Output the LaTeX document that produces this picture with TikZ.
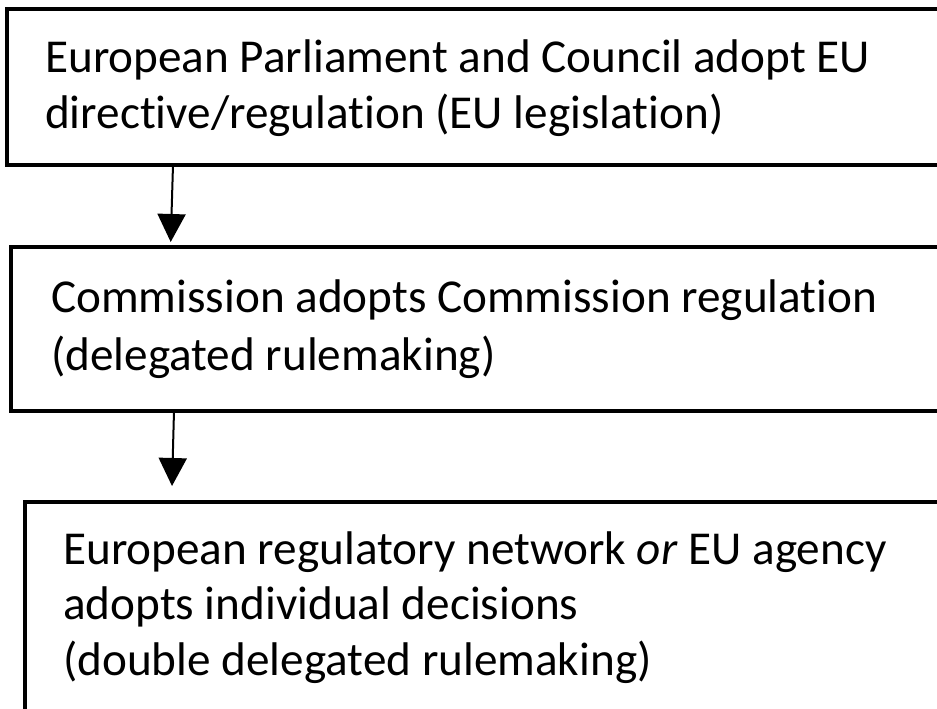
\documentclass[tikz,border=0pt]{standalone}
\usepackage{fontspec}
\setmainfont{Carlito}[Ligatures=NoCommon]
\usetikzlibrary{arrows.meta}

\begin{document}
\begin{tikzpicture}[x=1pt,y=-1pt,>={Triangle[width=28pt,length=28pt]}]
            \useasboundingbox (0,0) rectangle (937,709);
            \clip (0,0) rectangle (937,709);
            \tikzset{stepbox/.style={draw,rectangle,line width=4pt,anchor=north west,outer sep=0pt,inner sep=0pt}}
            \tikzset{boxtext/.style={anchor=base west,inner sep=0pt,align=left,font=\fontsize{47.2}{55.5}\selectfont}}
            \tikzset{flow/.style={->,line width=2pt}}
            \node[stepbox,minimum width=960pt,minimum height=156pt] (eplc)   at (6.5,9)    {};
            \node[stepbox,minimum width=960pt,minimum height=164pt] (comm)   at (11,247)   {};
            \node[stepbox,minimum width=960pt,minimum height=260pt] (agency) at (24.5,501.5) {};
            \node[boxtext] (eplc-text)   at (45,128)  {European Parliament and Council adopt EU\\directive/regulation (EU legislation)};
            \node[boxtext,font=\fontsize{47.2}{58}\selectfont] (comm-text) at (51,370) {Commission adopts Commission regulation\\(delegated rulemaking)};
            \node[boxtext] (agency-text) at (63,675) {European regulatory network \textit{or} EU agency\\adopts individual decisions\\(double delegated rulemaking)};
            \draw[flow] ([xshift=166.5pt]eplc.south west) -- ([xshift=159.7pt,yshift=5pt]comm.north west);
            \draw[flow] ([xshift=163pt]comm.south west)   -- ([xshift=147.5pt,yshift=15.5pt]agency.north west);
        \end{tikzpicture}
\end{document}
